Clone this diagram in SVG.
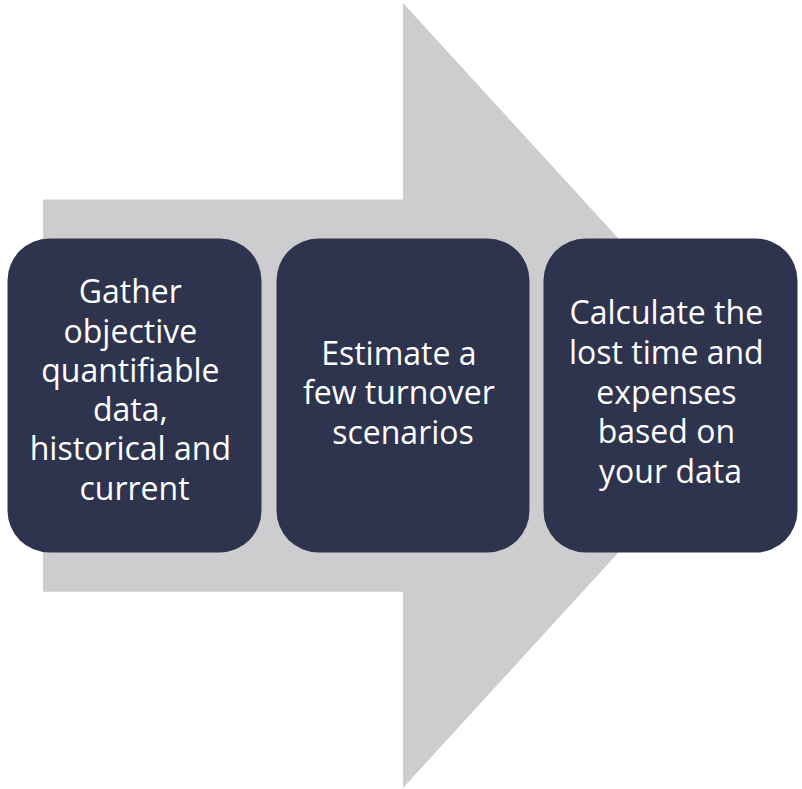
<svg xmlns="http://www.w3.org/2000/svg" width="802" height="789" viewBox="0 0 802 789">
  <style>
    .step rect { fill: #2F344E; }
    .step text { fill: #FFFFFF; font-family: "Open Sans", "Liberation Sans", sans-serif; font-size: 32px; text-anchor: middle; }
    .backdrop { fill: #CDCDCF; }
  </style>
  <rect width="802" height="789" fill="#FFFFFF"/>
  <!-- broad process arrow behind the steps -->
  <g id="connectors">
    <polygon class="backdrop" points="43,199.5 403,199.5 403,3 762,395.5 403,788 403,591.7 43,591.7"/>
  </g>
  <g id="step-gather" class="step">
    <rect x="7.5" y="238.5" width="254" height="314" rx="42" ry="42"/>
    <text x="134.5">
      <tspan x="134.5" y="303">Gather</tspan>
      <tspan x="134.5" y="342.5">objective</tspan>
      <tspan x="134.5" y="382">quantifiable</tspan>
      <tspan x="134.5" y="421">data,</tspan>
      <tspan x="134.5" y="460">historical and</tspan>
      <tspan x="134.5" y="499.5">current</tspan>
    </text>
  </g>
  <g id="step-estimate" class="step">
    <rect x="276.5" y="238.5" width="253" height="314" rx="42" ry="42"/>
    <text x="403">
      <tspan x="403" y="365">Estimate a</tspan>
      <tspan x="403" y="404">few turnover</tspan>
      <tspan x="403" y="443.5">scenarios</tspan>
    </text>
  </g>
  <g id="step-calculate" class="step">
    <rect x="543.5" y="238.5" width="254" height="314" rx="42" ry="42"/>
    <text x="670.5">
      <tspan x="670.5" y="324">Calculate the</tspan>
      <tspan x="670.5" y="364">lost time and</tspan>
      <tspan x="670.5" y="403.5">expenses</tspan>
      <tspan x="670.5" y="443">based on</tspan>
      <tspan x="670.5" y="482.5">your data</tspan>
    </text>
  </g>
</svg>
